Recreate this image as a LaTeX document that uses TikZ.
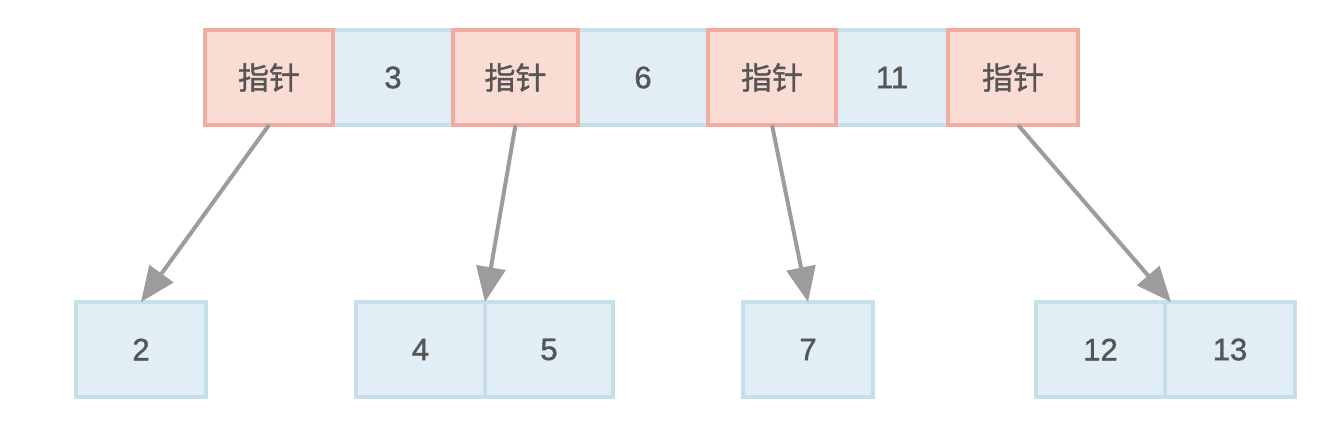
\documentclass[tikz,border=0pt]{standalone}
\usepackage{fontspec}
\setmainfont{Liberation Sans}
\newfontfamily\numfont{Liberation Sans}[FakeBold=1.2]
\newfontfamily\cjk{Noto Sans CJK SC}[FakeBold=1.2]
\usetikzlibrary{arrows.meta}
\definecolor{pinkfill}{HTML}{FADCD5}
\definecolor{pinkdraw}{HTML}{F2ABA0}
\definecolor{bluefill}{HTML}{E1EEF5}
\definecolor{bluedraw}{HTML}{C5DFEB}
\definecolor{arrowgray}{HTML}{9C9C9C}
\definecolor{textgray}{HTML}{555555}
\tikzset{
  cell/.style={rectangle, inner sep=0pt, outer sep=0pt, minimum height=95pt,
    text=textgray, font=\numfont\fontsize{31}{34}\selectfont},
  bluecell/.style={cell, fill=bluefill, draw=bluedraw, line width=3.5pt},
  ptrcell/.style={cell, fill=pinkfill, draw=pinkdraw, line width=4pt,
    font=\cjk\fontsize{31}{34}\selectfont},
  link/.style={draw=arrowgray, line width=4pt,
    -{Triangle[length=35pt,width=29pt]}, shorten >=0pt},
}
\begin{document}
\begin{tikzpicture}[x=1pt,y=-1pt]
\useasboundingbox[fill=white] (0,0) rectangle (1340,428);
% top row values
\node[bluecell, minimum width=120pt] (k3) at (393,77.5) {3};
\node[bluecell, minimum width=130pt] (k6) at (643,77.5) {6};
\node[bluecell, minimum width=112pt] (k11) at (892,77.5) {11};
% pointers
\node[ptrcell, minimum width=128pt] (p1) at (269,77.5) {指针};
\node[ptrcell, minimum width=125pt] (p2) at (515.5,77.5) {指针};
\node[ptrcell, minimum width=128pt] (p3) at (772,77.5) {指针};
\node[ptrcell, minimum width=130pt] (p4) at (1013,77.5) {指针};
% bottom row
\node[bluecell, minimum width=130pt] (c2) at (141,349.5) {2};
\node[bluecell, minimum width=129pt] (c4) at (420.5,349.5) {4};
\node[bluecell, minimum width=128pt] (c5) at (549,349.5) {5};
\node[bluecell, minimum width=130pt] (c7) at (808,349.5) {7};
\node[bluecell, minimum width=129pt] (c12) at (1100.5,349.5) {12};
\node[bluecell, minimum width=130pt] (c13) at (1230,349.5) {13};
% links
\draw[link] (p1.south) -- (c2.north);
\draw[link] (p2.south) -- (c4.north east);
\draw[link] (p3.south) -- (c7.north);
\draw[link] ([xshift=5pt]p4.south) -- ([xshift=6pt]c12.north east);
\end{tikzpicture}
\end{document}
